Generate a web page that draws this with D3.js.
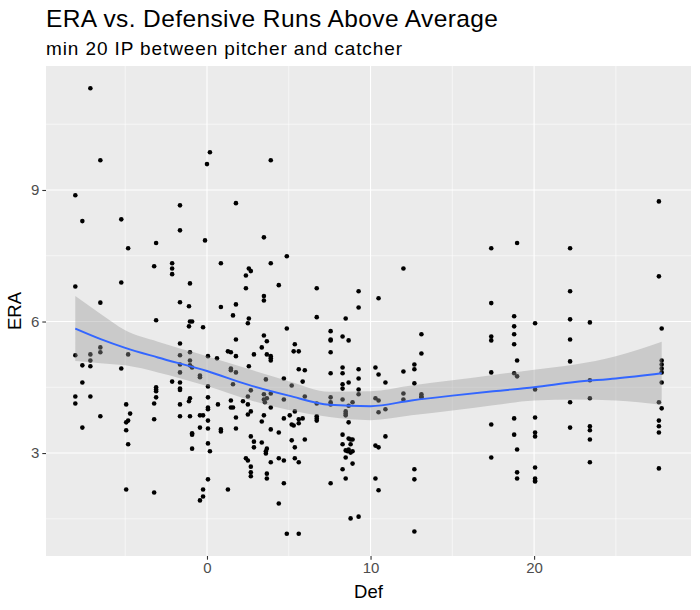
<!DOCTYPE html>
<html>
<head>
<meta charset="utf-8">
<script src="https://cdn.jsdelivr.net/npm/d3@7"></script>
<style>
  body { margin: 0; background: #fff; }
  svg { font-family: "Liberation Sans", Arial, sans-serif; }
</style>
</head>
<body>
<svg width="700" height="610"></svg>
<script>
// pitcher/catcher pairs: Def (x) and ERA (y)
var defVals = [
  -7.13,-6.52,0.18,0.00,-8.05,-1.65,1.77,-7.62,-5.24,-1.65,-0.12,-3.11,-4.82,-2.13,-2.13,-2.13,-3.23,0.85,2.56,2.68,
  2.38,2.38,-1.04,-5.24,-8.05,-6.52,-1.65,-1.10,0.85,1.77,
  -3.11,-1.04,-0.91,-1.10,-0.24,1.59,2.56,2.50,1.77,-1.65,-6.52,-6.52,-8.05,-7.13,-7.13,-7.13,-7.62,-7.62,-4.82,-5.24,
  -1.65,-1.04,-1.04,-1.04,-1.65,-0.91,-1.65,-2.13,-1.65,-1.65,-1.65,-0.43,-0.43,0.06,0.61,1.28,1.46,1.77,2.87,1.46,
  1.46,1.77,2.56,1.59,0.06,0.06,0.06,0.06,0.06,0.06,0.06,0.18,0.06,-0.24,-0.24,-0.43,1.28,-4.94,-3.23,-8.05,
  -8.05,-7.13,-6.52,-7.62,-4.94,-4.70,-4.82,-4.94,-4.94,-4.82,-3.11,-3.11,-3.11,-3.11,-3.23,-3.23,-1.65,-1.65,-1.04,-1.10,
  -1.04,-0.43,-0.24,-0.43,-0.91,-0.91,-0.91,0.67,0.85,0.85,1.46,1.46,1.59,1.77,1.77,2.20,2.50,2.68,2.50,2.68,
  2.50,2.68,2.87,2.87,2.38,2.50,2.68,2.68,2.68,
  3.90,3.48,4.88,3.90,12.01,4.39,6.71,9.27,10.49,3.48,3.48,9.27,
  6.71,8.48,4.88,7.56,3.48,8.29,3.66,7.56,7.56,8.66,13.11,5.37,3.35,5.30,5.61,7.56,13.11,3.66,3.90,3.90,3.90,5.61,
  5.98,8.29,8.29,7.56,9.27,9.27,10.30,10.49,12.01,12.68,12.68,12.68,10.91,3.60,4.70,5.85,5.18,8.66,8.29,8.29,9.27,9.27,
  3.48,3.90,3.48,3.66,3.54,4.70,5.98,7.56,7.56,7.56,6.71,8.29,8.90,8.66,8.48,8.48,8.48,10.30,10.49,10.49,10.91,12.01,
  12.01,13.11,13.11,13.11,3.90,3.48,3.35,5.06,5.37,4.70,5.18,5.30,5.61,5.85,5.61,6.71,6.71,6.71,8.66,3.90,4.39,3.35,
  3.66,3.60,3.60,5.18,5.37,5.98,8.29,8.66,8.90,8.78,8.29,8.78,8.48,8.60,8.78,8.90,8.48,8.66,10.30,10.49,10.91,3.90,
  4.39,4.70,5.37,5.61,8.90,3.66,3.66,4.70,7.56,8.29,8.48,10.30,10.49,12.68,12.68,4.39,8.78,9.27,4.88,5.61,12.68,
  27.63,17.38,18.96,22.20,27.63,22.20,17.38,18.78,18.78,18.78,18.78,20.06,22.20,23.41,27.80,17.38,17.38,22.20,18.96,22.20,
  27.80,27.80,27.80,27.80,17.38,18.78,18.96,20.06,23.41,23.41,27.80,22.20,27.63,27.80,17.38,18.78,20.06,18.78,20.06,20.06,
  22.20,23.41,23.41,23.41,27.63,27.63,27.63,18.96,17.38,20.06,18.96,18.96,20.06,20.06,20.06,23.41,27.63
];
var eraVals = [
  11.32,9.68,9.86,9.59,8.88,8.65,8.70,8.29,8.33,8.08,7.85,7.79,7.67,7.33,7.21,7.08,7.26,7.33,7.21,7.15,
  7.05,6.76,6.87,6.89,6.80,6.43,6.44,6.35,6.33,6.39,
  6.03,6.00,6.00,5.89,5.87,6.14,6.07,5.96,5.59,5.50,5.41,5.30,5.23,5.25,5.11,4.98,5.00,4.61,5.25,4.93,
  5.23,5.30,5.11,5.00,5.02,4.95,4.84,4.63,4.61,4.47,4.44,4.77,4.73,5.21,5.16,5.32,5.30,5.21,5.25,4.93,
  4.89,4.84,4.98,4.57,4.52,4.27,4.04,4.00,3.74,3.56,3.22,3.04,2.40,2.17,2.01,1.92,2.17,2.17,2.10,4.29,
  4.13,4.29,3.84,3.58,4.11,3.90,3.74,3.70,3.52,3.20,4.50,4.45,4.41,4.27,4.13,3.77,4.11,3.84,4.25,4.18,
  3.84,3.86,3.86,3.58,3.45,3.42,3.10,4.11,3.54,3.49,4.20,4.04,4.04,3.81,3.56,4.18,4.29,4.43,4.11,3.95,
  3.88,3.38,3.26,3.13,2.88,2.83,2.69,2.56,2.47,
  9.68,7.92,7.49,7.33,7.21,6.83,6.76,6.69,6.53,6.58,6.48,6.32,
  6.10,6.07,5.84,5.78,5.68,5.66,5.55,5.59,5.57,5.57,5.71,5.48,5.41,5.32,5.32,5.30,5.27,5.25,5.21,5.16,5.11,4.91,
  4.89,4.95,4.82,4.82,4.91,4.70,4.95,4.79,4.86,5.02,4.91,4.59,4.61,4.68,4.70,4.63,4.54,4.61,4.57,4.47,4.45,4.34,
  4.34,4.36,4.22,4.25,4.16,4.22,4.29,4.27,4.16,4.11,4.13,4.22,4.16,4.08,3.95,3.90,3.86,4.25,4.20,3.93,4.00,4.36,
  4.22,4.34,4.29,4.27,4.04,3.86,3.72,3.86,3.95,3.79,3.65,3.63,3.77,3.79,3.68,3.84,3.79,3.74,3.70,3.54,3.47,3.24,
  3.10,3.04,2.99,3.29,3.13,3.31,3.42,3.33,3.31,3.31,3.20,3.20,3.06,3.04,3.01,3.04,2.90,3.08,3.17,3.13,3.38,2.79,
  2.88,2.83,2.88,2.79,2.76,2.53,2.42,2.31,2.31,2.63,2.42,2.42,2.15,2.63,2.40,1.85,1.51,1.55,1.16,1.16,1.21,
  8.74,7.67,7.79,7.67,7.03,6.69,6.42,6.12,5.89,5.71,5.48,5.96,6.05,5.98,5.84,5.66,5.57,5.59,5.11,5.09,
  5.11,5.02,4.93,4.84,4.84,4.82,4.75,4.45,4.66,4.25,4.61,4.16,4.16,4.02,3.65,3.79,3.81,3.42,3.47,3.38,
  3.58,3.61,3.52,3.31,3.74,3.61,3.47,3.08,2.90,2.67,2.56,2.42,2.42,2.37,2.35,2.79,2.65
];

// loess fit, with its 95% band
var smoothDef = [-8.05, -6.5, -5, -3, 0, 2.5, 5, 7.5, 10, 12.5, 15, 17.5, 20, 22.5, 25, 27.8];
var smoothFit = [5.84, 5.60, 5.40, 5.18, 4.87, 4.56, 4.31, 4.10, 4.07, 4.20, 4.31, 4.41, 4.50, 4.62, 4.70, 4.82];
var smoothLo  = [5.10, 5.05, 5.00, 4.84, 4.53, 4.22, 3.98, 3.82, 3.75, 3.86, 3.97, 4.09, 4.20, 4.22, 4.20, 4.10];
var smoothHi  = [6.58, 6.17, 5.80, 5.54, 5.21, 4.92, 4.64, 4.40, 4.41, 4.54, 4.66, 4.78, 4.90, 5.02, 5.21, 5.54];

var xTicks = [0, 10, 20], xMinor = [-5, 5, 15, 25];
var yTicks = [3, 6, 9], yMinor = [1.5, 4.5, 7.5, 10.5];

var svg = d3.select("svg"),
    margin = {top: 66, right: 9, bottom: 54, left: 46},
    width = +svg.attr("width") - margin.left - margin.right,
    height = +svg.attr("height") - margin.top - margin.bottom;

var points = defVals.map(function(d, i){ return {def: d, era: eraVals[i]}; });
var smooth = smoothDef.map(function(d, i){
  return {def: d, fit: smoothFit[i], lo: smoothLo[i], hi: smoothHi[i]};
});

// ggplot style 5% expansion
var xExt = d3.extent(defVals), yExt = d3.extent(eraVals);
var xPad = (xExt[1] - xExt[0]) * 0.05, yPad = (yExt[1] - yExt[0]) * 0.05;

var x = d3.scaleLinear().domain([xExt[0] - xPad, xExt[1] + xPad]).range([0, width]),
    y = d3.scaleLinear().domain([yExt[0] - yPad, yExt[1] + yPad]).range([height, 0]);

// the reference glyphs run a bit wider, so fit spacing to its widths
svg.append("text")
    .attr("x", margin.left).attr("y", 27)
    .attr("font-size", 24.5).attr("fill", "#000")
    .attr("textLength", 452).attr("lengthAdjust", "spacing")
    .text("ERA vs. Defensive Runs Above Average");
svg.append("text")
    .attr("x", margin.left).attr("y", 55)
    .attr("font-size", 19).attr("fill", "#000")
    .attr("textLength", 356).attr("lengthAdjust", "spacing")
    .text("min 20 IP between pitcher and catcher");

var g = svg.append("g")
    .attr("transform", "translate(" + margin.left + "," + margin.top + ")");

g.append("rect").attr("width", width).attr("height", height).attr("fill", "#ebebeb");

g.selectAll(".minor-x").data(xMinor).enter().append("line")
    .attr("x1", function(d){return x(d);}).attr("x2", function(d){return x(d);})
    .attr("y1", 0).attr("y2", height)
    .attr("stroke", "#fff").attr("stroke-width", 0.55);
g.selectAll(".minor-y").data(yMinor).enter().append("line")
    .attr("y1", function(d){return y(d);}).attr("y2", function(d){return y(d);})
    .attr("x1", 0).attr("x2", width)
    .attr("stroke", "#fff").attr("stroke-width", 0.55);
g.selectAll(".major-x").data(xTicks).enter().append("line")
    .attr("x1", function(d){return x(d);}).attr("x2", function(d){return x(d);})
    .attr("y1", 0).attr("y2", height)
    .attr("stroke", "#fff").attr("stroke-width", 1.1);
g.selectAll(".major-y").data(yTicks).enter().append("line")
    .attr("y1", function(d){return y(d);}).attr("y2", function(d){return y(d);})
    .attr("x1", 0).attr("x2", width)
    .attr("stroke", "#fff").attr("stroke-width", 1.1);

g.selectAll(".pt").data(points).enter().append("circle")
    .attr("cx", function(d){return x(d.def);})
    .attr("cy", function(d){return y(d.era);})
    .attr("r", 2.3)
    .attr("fill", "#000");

var band = d3.area()
    .x(function(d){return x(d.def);})
    .y0(function(d){return y(d.lo);})
    .y1(function(d){return y(d.hi);})
    .curve(d3.curveMonotoneX);
g.append("path").attr("d", band(smooth))
    .attr("fill", "#999999").attr("fill-opacity", 0.4);

var line = d3.line()
    .x(function(d){return x(d.def);})
    .y(function(d){return y(d.fit);})
    .curve(d3.curveMonotoneX);
g.append("path").attr("d", line(smooth))
    .attr("fill", "none").attr("stroke", "#3366ff").attr("stroke-width", 2);

// axes
var xAxis = g.append("g")
    .attr("transform", "translate(0," + height + ")")
    .call(d3.axisBottom(x).tickValues(xTicks).tickSize(3.7).tickPadding(3));
var yAxis = g.append("g")
    .call(d3.axisLeft(y).tickValues(yTicks).tickSize(3.7).tickPadding(3));
[xAxis, yAxis].forEach(function(a){
  a.select(".domain").remove();
  a.selectAll("line").attr("stroke", "#333333").attr("stroke-width", 1.1);
  a.selectAll("text").attr("fill", "#4d4d4d").attr("font-size", 15)
    .attr("font-family", "'Liberation Sans', Arial, sans-serif");
});

svg.append("text")
    .attr("x", margin.left + width / 2).attr("y", 598)
    .attr("text-anchor", "middle").attr("font-size", 18.5).attr("fill", "#000")
    .text("Def");
svg.append("text")
    .attr("transform", "translate(21," + (margin.top + height / 2) + ") rotate(-90)")
    .attr("text-anchor", "middle").attr("font-size", 18.5).attr("fill", "#000")
    .text("ERA");
</script>
</body>
</html>
